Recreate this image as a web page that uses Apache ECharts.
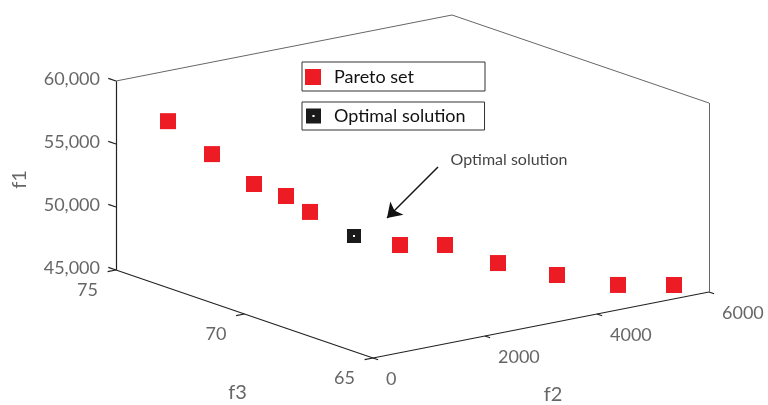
<!DOCTYPE html>
<html>
<head>
    <meta charset="utf-8"/>
    <script src="https://cdn.jsdelivr.net/npm/echarts@6/dist/echarts.min.js"></script>
    <style>
        html, body { margin: 0; padding: 0; background: #fff; }
    </style>
</head>
<body>
<div id="main" style="width: 768px;height:405px;"></div>
<script type="text/javascript">
    // Pareto set (f1, f2, f3), optimal solution kept apart
    var paretoF1 = [57100, 54900, 52750, 51960, 50980, 48710, 48670, 47290, 46190, 45220, 45220];
    var paretoF2 = [470, 796, 1179, 1475, 1629, 2501, 3030, 3609, 4341, 5109, 5742];
    var paretoF3 = [74, 73, 72.2, 71.6, 71, 69.4, 68.8, 68, 67.3, 66.6, 65.8];
    var optimalF1 = [49260];
    var optimalF2 = [2047];
    var optimalF3 = [70.2];

    var f1Ticks = [45000, 50000, 55000, 60000];
    var f2Ticks = [0, 2000, 4000, 6000];
    var f3Ticks = [65, 70, 75];
    var f1Range = [45000, 60000];
    var f2Range = [0, 6000];
    var f3Range = [65, 75];

    // projection of the 3d box onto the page (view angle of the original figure)
    var origin = [116, 270];       // f2 min, f3 max, f1 min
    var vecF2 = [336, -66];
    var vecF3 = [257, 88];         // from f3 max to f3 min
    var vecF1 = [0, -189];
    function proj(a, b, c) {
        var u = (a - f2Range[0]) / (f2Range[1] - f2Range[0]);
        var v = (f3Range[1] - b) / (f3Range[1] - f3Range[0]);
        var h = (c - f1Range[0]) / (f1Range[1] - f1Range[0]);
        return [origin[0] + vecF2[0] * u + vecF3[0] * v + vecF1[0] * h,
                origin[1] + vecF2[1] * u + vecF3[1] * v + vecF1[1] * h];
    }

    var x0 = f2Range[0], x1 = f2Range[1], y0 = f3Range[0], y1 = f3Range[1], z0 = f1Range[0], z1 = f1Range[1];
    var axisEdges = [
        [proj(x0, y1, z0), proj(x0, y1, z1)],
        [proj(x0, y1, z0), proj(x0, y0, z0)],
        [proj(x0, y0, z0), proj(x1, y0, z0)]
    ];
    var boxEdges = [
        [proj(x1, y0, z0), proj(x1, y0, z1)],
        [proj(x0, y1, z1), proj(x1, y1, z1)],
        [proj(x1, y1, z1), proj(x1, y0, z1)]
    ];
    var tickSegs = [];
    f1Ticks.forEach(function (t) { tickSegs.push([proj(x0, y1, t), proj(x0, y1 + 0.3, t)]); });
    f3Ticks.forEach(function (t) { tickSegs.push([proj(x0, t, z0), proj(x0 - 150, t, z0)]); });
    f2Ticks.forEach(function (t) { tickSegs.push([proj(t, y0, z0), proj(t, y0 - 0.2, z0)]); });

    var paretoData = paretoF1.map(function (v, i) { return proj(paretoF2[i], paretoF3[i], v); });
    var optimalData = optimalF1.map(function (v, i) { return proj(optimalF2[i], optimalF3[i], v); });

    var labelFont = { fontFamily: 'Lato', fontSize: 18, color: '#404040' };
    function labelSeries(points, texts, lab) {
        return {
            type: 'scatter', symbolSize: 0, silent: true,
            data: points.map(function (p, i) { return { value: p, name: texts[i] }; }),
            label: Object.assign({ show: true, position: 'inside', formatter: '{b}' }, labelFont, lab)
        };
    }
    function fmt(n) { return n.toLocaleString('en-US'); }

    var optIcon = 'path://M0,0L14,0L14,14L0,14Z M6,6L6,8L8,8L8,6Z';

    var myChart = echarts.init(document.getElementById('main'));
    var option = {
        animation: false,
        grid: { left: 0, top: 0, right: 0, bottom: 0 },
        xAxis: { type: 'value', min: 0, max: 768, show: false },
        yAxis: { type: 'value', min: 0, max: 405, inverse: true, show: false },
        legend: [
            {
                data: [{ name: 'Pareto set', icon: 'rect' }],
                left: 302, top: 62, itemWidth: 16, itemHeight: 16,
                padding: [6, 71, 5, 3], borderColor: '#333', borderWidth: 1,
                selectedMode: false,
                textStyle: { fontFamily: 'Lato', fontSize: 18, color: '#111', padding: [0, 0, 0, 8] }
            },
            {
                data: [{ name: 'Optimal solution', icon: optIcon }],
                left: 302, top: 102, itemWidth: 15, itemHeight: 15,
                padding: [5, 19, 5, 4], borderColor: '#333', borderWidth: 1,
                selectedMode: false,
                textStyle: { fontFamily: 'Lato', fontSize: 18, color: '#111', padding: [0, 0, 0, 8] }
            }
        ],
        series: [
            {
                type: 'lines', coordinateSystem: 'cartesian2d', silent: true,
                lineStyle: { color: '#222', width: 1.2, opacity: 1 },
                data: axisEdges.concat(tickSegs).map(function (s) { return { coords: s }; })
            },
            {
                type: 'lines', coordinateSystem: 'cartesian2d', silent: true,
                lineStyle: { color: '#666', width: 1, opacity: 1 },
                data: boxEdges.map(function (s) { return { coords: s }; })
            },
            {
                name: 'Pareto set', type: 'scatter', symbol: 'rect', symbolSize: 16,
                itemStyle: { color: '#ed1c24', opacity: 1 }, data: paretoData
            },
            {
                name: 'Optimal solution', type: 'scatter', symbol: optIcon, symbolSize: 14,
                itemStyle: { color: '#1a1a1a', opacity: 1 }, data: optimalData
            },
            {
                type: 'lines', coordinateSystem: 'cartesian2d', silent: true,
                symbol: ['none', 'arrow'], symbolSize: 14,
                lineStyle: { color: '#111', width: 1.5, opacity: 1 },
                data: [{ coords: [[438, 167], [387, 218]] }]
            },
            labelSeries([[509, 160]], ['Optimal solution'], { fontSize: 16, color: '#111' }),
            labelSeries(f1Ticks.map(function (t) { return proj(x0, y1, t); }), f1Ticks.map(fmt),
                { align: 'right', verticalAlign: 'middle', offset: [-16, -2] }),
            labelSeries(f3Ticks.map(function (t) { return proj(x0, t, z0); }), f3Ticks.map(String),
                { align: 'right', verticalAlign: 'middle', offset: [-18, 20] }),
            labelSeries(f2Ticks.map(function (t) { return proj(t, y0, z0); }), f2Ticks.map(String),
                { align: 'left', verticalAlign: 'middle', offset: [13, 21] }),
            labelSeries([proj(x0, y1, (z0 + z1) / 2)], ['f1'],
                { fontSize: 20, rotate: 90, align: 'center', verticalAlign: 'middle', offset: [-4, -96] }),
            labelSeries([proj(x0, (y0 + y1) / 2, z0)], ['f3'],
                { fontSize: 20, align: 'center', verticalAlign: 'middle', offset: [-7, 79] }),
            labelSeries([proj((x0 + x1) / 2, y0, z0)], ['f2'],
                { fontSize: 20, align: 'center', verticalAlign: 'middle', offset: [12, 70] })
        ]
    };
    myChart.setOption(option);
</script>
</body>
</html>
